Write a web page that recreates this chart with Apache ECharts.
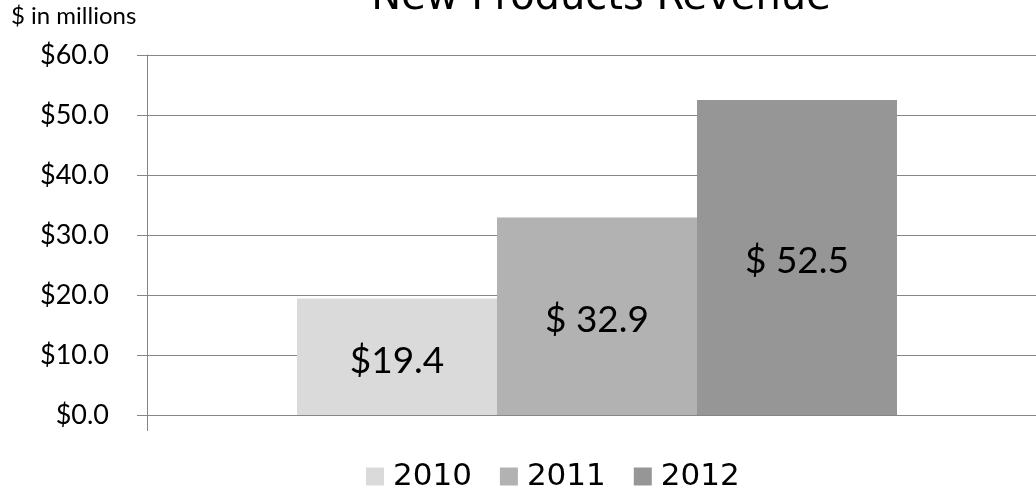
<!DOCTYPE html>
<html><head><meta charset="utf-8">
<script src="https://cdn.jsdelivr.net/npm/echarts@6/dist/echarts.min.js"></script>
<style>html,body{margin:0;padding:0;background:#fff;overflow:hidden}#c{width:1047px;height:489px}</style>
</head><body><div id="c"></div>
<script>
const categories = [''];
const seriesNames = ['2010', '2011', '2012'];
const values2010 = [19.4];
const values2011 = [32.9];
const values2012 = [52.5];
const labelTexts = ['$19.4', '$ 32.9', '$ 52.5'];
const colors = ['#DADADA', '#B2B2B2', '#969696'];

const chart = echarts.init(document.getElementById('c'));
const valueSets = [values2010, values2011, values2012];
const calibri = 'Lato, "Open Sans", sans-serif';
chart.setOption({
  animation: false,
  title: {
    text: 'New Products Revenue', left: 596, textAlign: 'center', top: -26,
    textStyle: { fontFamily: 'DejaVu Sans', fontSize: 40, fontWeight: 'normal', color: '#000' }
  },
  graphic: [{
    type: 'text', left: 11, top: 4,
    style: { text: '$ in millions', fontFamily: calibri, fontSize: 24, fill: '#000' }
  }],
  legend: {
    data: seriesNames, bottom: -8, left: 361, itemWidth: 18, itemHeight: 18, itemGap: 28,
    icon: 'rect',
    textStyle: { fontFamily: 'DejaVu Sans', fontSize: 31, color: '#000', padding: [0, 0, 0, 4] }
  },
  grid: { left: 147, top: 55, right: 0, height: 360, containLabel: false },
  xAxis: {
    type: 'category', data: categories,
    axisLine: { show: false },
    axisTick: { show: true, length: 16, lineStyle: { color: '#868686' } },
    axisLabel: { show: false }
  },
  yAxis: {
    type: 'value', min: 0, max: 60, interval: 10,
    axisLine: { show: true, lineStyle: { color: '#868686' } },
    axisTick: { show: true, length: 10, lineStyle: { color: '#868686' } },
    splitLine: { show: true, lineStyle: { color: '#868686', width: 1 } },
    axisLabel: {
      margin: 38, fontFamily: calibri, fontSize: 27, color: '#000',
      formatter: v => '$' + v.toFixed(1)
    }
  },
  series: seriesNames.map((n, i) => ({
    name: n, type: 'bar', data: valueSets[i],
    barGap: '0%', barWidth: 200,
    itemStyle: { color: colors[i] },
    label: {
      show: true, position: 'inside', formatter: () => labelTexts[i],
      fontFamily: calibri, fontSize: 37, color: '#000', offset: [0, 4]
    }
  }))
});
</script></body></html>
